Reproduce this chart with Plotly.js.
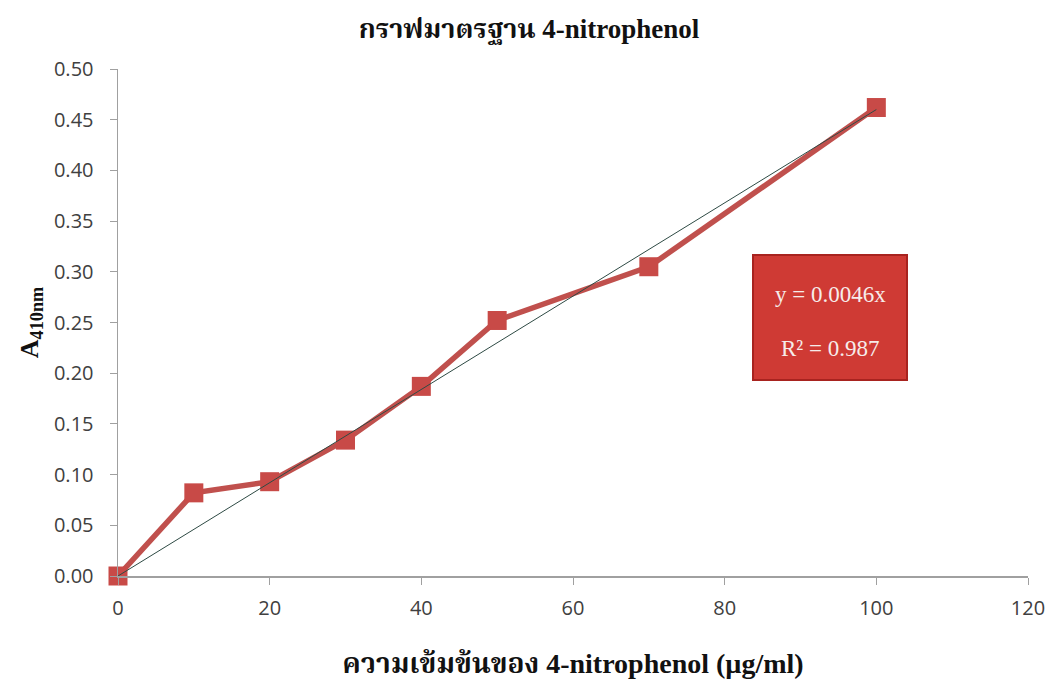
<!DOCTYPE html>
<html>
<head>
<meta charset="utf-8">
<script src="https://cdn.plot.ly/plotly-3.0.1.min.js"></script>
<style>
  html, body { margin: 0; padding: 0; background: #fff; }
  #chart { width: 1058px; height: 686px; }
</style>
</head>
<body>
<div id="chart"></div>
<script>
// Standard curve of 4-nitrophenol: concentration (µg/ml) vs absorbance at 410 nm
const concentration = [0, 10, 20, 30, 40, 50, 70, 100];
const absorbance = [0.000, 0.082, 0.093, 0.134, 0.187, 0.252, 0.305, 0.462];

// Linear fit through the origin
const slope = 0.0046;
const rSquared = 0.987;
const fitX = [0, 100];
const fitY = fitX.map(x => slope * x);

const serif = '"Liberation Serif", "Times New Roman", "Noto Serif Thai", "Noto Sans Thai", serif';
const sans = '"Open Sans", "Noto Sans", "Liberation Sans", sans-serif';

const data = [
  {
    x: concentration,
    y: absorbance,
    type: 'scatter',
    mode: 'lines+markers',
    line: { color: '#c0504d', width: 5.5 },
    marker: { symbol: 'square', size: 19, color: '#c84a47' },
    cliponaxis: false,
    hoverinfo: 'x+y'
  },
  {
    x: fitX,
    y: fitY,
    type: 'scatter',
    mode: 'lines',
    line: { color: '#2e4a44', width: 1 },
    cliponaxis: false,
    hoverinfo: 'skip'
  }
];

// Equation box placement (pixel coordinates converted to paper fractions)
const boxX0 = 753, boxX1 = 907, boxY0 = 255, boxY1 = 380;
const px = v => (v - 118) / 910;
const py = v => (576 - v) / 507;

const layout = {
  width: 1058,
  height: 686,
  margin: { l: 118, r: 30, t: 69, b: 110 },
  paper_bgcolor: '#ffffff',
  plot_bgcolor: '#ffffff',
  showlegend: false,
  font: { family: sans, color: '#404040' },
  title: {
    text: 'กราฟมาตรฐาน 4-nitrophenol',
    font: { family: serif, size: 27, color: '#111111', weight: 'bold' },
    x: 0.5, xanchor: 'center',
    y: 0.958, yanchor: 'middle'
  },
  xaxis: {
    range: [0, 120],
    dtick: 20,
    tick0: 0,
    showgrid: false,
    zeroline: false,
    showline: true,
    linecolor: '#a0a0a0',
    linewidth: 1.5,
    ticks: 'outside',
    ticklen: 7,
    tickcolor: '#a0a0a0',
    ticklabelstandoff: 6,
    tickfont: { family: sans, size: 20, color: '#404040' },
    title: {
      text: 'ความเข้มข้นของ 4-nitrophenol (µg/ml)',
      font: { family: serif, size: 28, color: '#111111', weight: 'bold' },
      standoff: 34
    }
  },
  yaxis: {
    range: [0, 0.5],
    dtick: 0.05,
    tick0: 0,
    tickformat: '.2f',
    showgrid: false,
    zeroline: false,
    showline: true,
    linecolor: '#a0a0a0',
    linewidth: 1.5,
    ticks: 'outside',
    ticklen: 7,
    tickcolor: '#a0a0a0',
    ticklabelstandoff: 12,
    tickfont: { family: sans, size: 20, color: '#404040' },
    title: {
      text: 'A<sub>410nm</sub>',
      font: { family: serif, size: 26, color: '#111111', weight: 'bold' },
      standoff: 8
    }
  },
  shapes: [
    {
      type: 'rect', xref: 'paper', yref: 'paper',
      x0: px(boxX0), x1: px(boxX1),
      y0: py(boxY1), y1: py(boxY0),
      fillcolor: '#cf3a34',
      line: { color: '#a8231f', width: 2 }
    }
  ],
  annotations: [
    {
      xref: 'paper', yref: 'paper',
      x: px(830), y: py(294),
      xanchor: 'center', yanchor: 'middle',
      text: 'y = ' + slope.toFixed(4) + 'x',
      showarrow: false,
      font: { family: serif, size: 23, color: '#f6ecea' }
    },
    {
      xref: 'paper', yref: 'paper',
      x: px(830), y: py(349),
      xanchor: 'center', yanchor: 'middle',
      text: 'R² = ' + rSquared.toFixed(3),
      showarrow: false,
      font: { family: serif, size: 23, color: '#f6ecea' }
    }
  ]
};

Plotly.newPlot('chart', data, layout, { displayModeBar: false, staticPlot: true });
</script>
</body>
</html>
